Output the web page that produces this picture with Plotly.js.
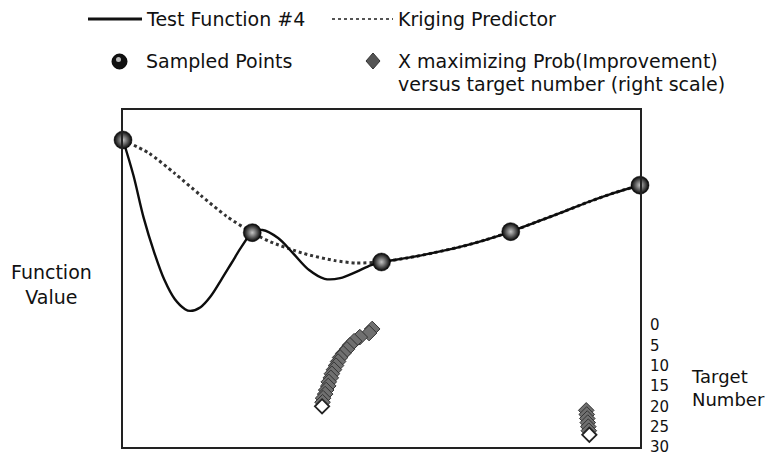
<!DOCTYPE html>
<html>
<head>
<meta charset="utf-8">
<script src="https://cdn.plot.ly/plotly-3.0.1.min.js"></script>
<style>
html,body{margin:0;padding:0;background:#fff;}
#chart{width:767px;height:457px;}
</style>
</head>
<body>
<div id="chart"></div>
<script>
// ---- data ----
var testX = [0,0.02,0.04,0.06,0.08,0.10,0.12,0.13,0.15,0.17,0.19,0.21,0.23,0.25,0.27,0.30,0.33,0.36,0.39,0.42,0.45,0.48,0.50,0.55,0.60,0.65,0.70,0.75,0.80,0.85,0.90,0.95,1.00];
var testY = [9.11,8.07,6.80,5.79,4.96,4.39,4.09,4.04,4.15,4.48,4.96,5.46,5.96,6.36,6.44,6.20,5.73,5.25,4.99,5.01,5.19,5.40,5.49,5.61,5.76,5.93,6.14,6.39,6.68,6.97,7.27,7.54,7.77];

var krigX = [0,0.05,0.10,0.15,0.20,0.25,0.285,0.35,0.41,0.45,0.50,0.55,0.60,0.65,0.70,0.75,0.80,0.85,0.90,0.95,1.00];
var krigY = [9.11,8.72,8.12,7.47,6.85,6.36,6.09,5.74,5.53,5.46,5.49,5.61,5.76,5.93,6.14,6.39,6.68,6.97,7.27,7.54,7.77];

var sampleX = [0,0.25,0.5,0.75,1];
var sampleY = [9.11,6.36,5.49,6.39,7.77];

// X maximizing probability of improvement, by target number (right scale)
var target1 = [1,2,3,4,5,6,7,8,9,10,11,12,13,14,15,16,17,18,19];
var xMax1   = [0.482,0.476,0.458,0.447,0.439,0.433,0.426,0.420,0.416,0.412,0.408,0.404,0.402,0.398,0.397,0.393,0.391,0.387,0.386];
var target2 = [21,22,23,24,25,26];
var xMax2   = [0.896,0.897,0.898,0.899,0.900,0.901];
var hollowTarget = [20,27];
var hollowX      = [0.385,0.902];

var rightTicks = [0,5,10,15,20,25,30];

// ---- layout helpers (pixel -> paper) ----
var L=123, R=640, T=110, B=447;
function px(x){return (x-L)/(R-L);}
function py(y){return (B-y)/(B-T);}

var FONT = 'DejaVu Sans, Verdana, sans-serif';

var traces = [
  {x:krigX, y:krigY, mode:'lines', line:{color:'#333', width:3, dash:'dot', shape:'spline', smoothing:0.7}, hoverinfo:'skip', showlegend:false},
  {x:testX, y:testY, mode:'lines', line:{color:'#0d0d0d', width:2.4, shape:'spline'}, showlegend:false},
  {x:sampleX, y:sampleY, mode:'markers', cliponaxis:false,
   marker:{size:18, color:'#000000', line:{width:0.5, color:'#000'}, gradient:{type:'radial', color:'#c4c4c4'}}, showlegend:false},
  {x:xMax1, y:target1, yaxis:'y2', mode:'markers', cliponaxis:false,
   marker:{symbol:'diamond', size:12, color:'#707070', line:{color:'#333', width:1}}, showlegend:false},
  {x:xMax2, y:target2, yaxis:'y2', mode:'markers', cliponaxis:false,
   marker:{symbol:'diamond', size:12, color:'#707070', line:{color:'#333', width:1}}, showlegend:false},
  {x:hollowX, y:hollowTarget, yaxis:'y2', mode:'markers', cliponaxis:false,
   marker:{symbol:'diamond', size:11, color:'#ffffff', line:{color:'#222', width:1.8}}, showlegend:false}
];

var shapes = [
  {type:'line', xref:'paper', yref:'paper', x0:px(88), x1:px(142), y0:py(19), y1:py(19), line:{color:'#111', width:2.8}},
  {type:'line', xref:'paper', yref:'paper', x0:px(332), x1:px(393), y0:py(19), y1:py(19), line:{color:'#555', width:2, dash:'dot'}},
  {type:'circle', xref:'paper', yref:'paper', x0:px(112), x1:px(127), y0:py(54), y1:py(69), fillcolor:'#111', line:{color:'#000', width:1}},
  {type:'circle', xref:'paper', yref:'paper', x0:px(116), x1:px(121), y0:py(57), y1:py(62), fillcolor:'#bbb', line:{width:0}},
  {type:'path', xref:'paper', yref:'paper', path:'M '+px(373)+' '+py(53)+' L '+px(380)+' '+py(61)+' L '+px(373)+' '+py(69)+' L '+px(366)+' '+py(61)+' Z', fillcolor:'#555', line:{color:'#333', width:1}}
];

var ann = function(text,x,y,opts){
  var a = {text:text, xref:'paper', yref:'paper', x:px(x), y:py(y), xanchor:'left', yanchor:'middle', showarrow:false,
           font:{family:FONT, size:19, color:'#111'}};
  for (var k in (opts||{})) a[k]=opts[k];
  return a;
};
var annotations = [
  ann('Test Function #4', 144, 19),
  ann('Kriging Predictor', 396, 19),
  ann('Sampled Points', 144, 61),
  ann('X maximizing Prob(Improvement)', 396, 61),
  ann('versus target number (right scale)', 396, 84),
  ann('Function<br>Value', 51, 284, {xanchor:'center', align:'center'}),
  ann('Target<br>Number', 689, 388, {align:'left', font:{family:FONT, size:18, color:'#111'}})
];

var layout = {
  width:767, height:457,
  margin:{l:L, r:767-R, t:T, b:457-B},
  paper_bgcolor:'#fff', plot_bgcolor:'#fff',
  showlegend:false,
  xaxis:{range:[0,1], showgrid:false, zeroline:false, showticklabels:false, ticks:'', showline:true, mirror:true, linecolor:'#222', linewidth:1.6},
  yaxis:{range:[0,10], showgrid:false, zeroline:false, showticklabels:false, ticks:'', showline:true, mirror:true, linecolor:'#222', linewidth:1.6},
  yaxis2:{overlaying:'y', side:'right', range:[30,-52.8], tickvals:rightTicks, ticktext:rightTicks.map(String),
          showgrid:false, zeroline:false, showline:false, ticks:'', ticklabelstandoff:9,
          tickfont:{family:FONT, size:15, color:'#111'}},
  shapes:shapes,
  annotations:annotations
};

Plotly.newPlot('chart', traces, layout, {displayModeBar:false, staticPlot:true});
</script>
</body>
</html>
